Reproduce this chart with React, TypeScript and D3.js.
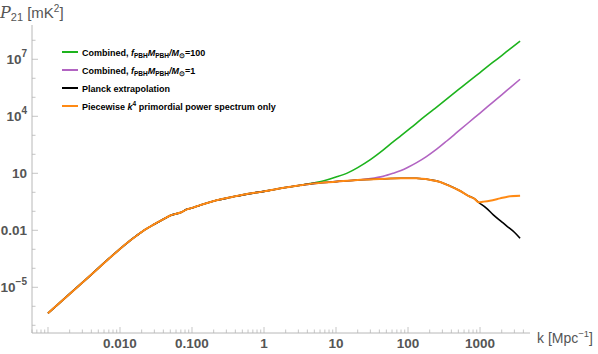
import React, { useEffect, useRef } from 'react';
import * as d3 from 'd3';

// shared low-k part (orange and black lie on top of each other here)
const kBase = [0.001, 0.002, 0.004, 0.007, 0.01, 0.013, 0.017, 0.022, 0.03, 0.04, 0.05, 0.06, 0.07, 0.085, 0.1, 0.12, 0.15, 0.22, 0.35, 0.6, 1, 2, 3.2, 5, 10, 20, 40, 80, 130, 200, 280, 380, 500, 720, 850, 950];
const pBase = [4.3e-7, 4.5e-6, 4.7e-5, 3.2e-4, 1.05e-3, 2.4e-3, 5.2e-3, 0.0105, 0.021, 0.038, 0.06, 0.074, 0.086, 0.127, 0.151, 0.19, 0.25, 0.38, 0.55, 0.83, 1.12, 1.78, 2.34, 2.95, 3.63, 4.47, 5.0, 5.5, 5.5, 4.57, 3.47, 2.14, 1.32, 0.6, 0.44, 0.3];

const kOrangeTail = [1100, 1370, 1900, 2400, 3600];
const pOrangeTail = [0.32, 0.36, 0.48, 0.59, 0.66];

const kBlackTail = [1200, 1530, 2000, 2400, 3000, 3600];
const pBlackTail = [0.158, 0.065, 0.028, 0.0158, 0.0079, 0.0038];

const kGreenTail = [5, 7, 10, 15, 20, 30, 45, 62, 80, 110, 150, 225, 350, 500, 720, 1000, 1500, 2000, 2700, 3600];
const pGreenTail = [3.16, 4.17, 6.31, 11.2, 20, 52.5, 166, 447, 955, 2510, 6610, 2.24e4, 8.5e4, 2.51e5, 7.6e5, 2.0e6, 6.8e6, 1.58e7, 3.9e7, 9.1e7];

const kPurpleTail = [30, 45, 62, 80, 100, 130, 180, 250, 345, 500, 690, 1000, 1500, 2000, 2700, 3600];
const pPurpleTail = [5.25, 6.9, 10, 14.1, 20.9, 35.5, 75.9, 186, 501, 1640, 4570, 1.48e4, 5.4e4, 1.35e5, 3.55e5, 8.9e5];

const xTickLabels = ['0.010', '0.100', '1', '10', '100', '1000'];
const xTickValues = [0.01, 0.1, 1, 10, 100, 1000];

const GREEN = '#1db31d';
const PURPLE = '#b264c2';
const ORANGE = '#ff8a14';
const AXIS = '#b8b8b8';
const TXT = '#555';
const FONT = 'Liberation Sans, Arial, Helvetica, sans-serif';

function join(kA: number[], pA: number[], upTo: number, kT: number[], pT: number[]) {
  const pts: [number, number][] = [];
  kA.forEach((k, i) => { if (k <= upTo) pts.push([k, pA[i]]); });
  kT.forEach((k, i) => pts.push([k, pT[i]]));
  return pts;
}

function App() {
  const svgRef = useRef<SVGSVGElement>(null);

  useEffect(() => {
    const svg = d3.select(svgRef.current);
    svg.selectAll('*').remove();

    const x = d3.scaleLog().domain([Math.pow(10, -3.222), Math.pow(10, 3.694)]).range([32, 530]);
    const y = d3.scaleLog().domain([Math.pow(10, 8.805), Math.pow(10, -7.405)]).range([25, 333]);

    const g = svg.append('g');

    // axes
    g.append('line').attr('x1', 32).attr('x2', 530).attr('y1', 333).attr('y2', 333).attr('stroke', AXIS);
    g.append('line').attr('x1', 32).attr('x2', 32).attr('y1', 25).attr('y2', 333).attr('stroke', AXIS);

    // x ticks
    for (let e = -4; e <= 3; e++) {
      for (let m = 1; m <= 9; m++) {
        const k = m * Math.pow(10, e);
        const px = x(k);
        if (px < 32 || px > 530) continue;
        const len = m === 1 ? 6 : 3.5;
        g.append('line').attr('x1', px).attr('x2', px).attr('y1', 333).attr('y2', 333 - len)
          .attr('stroke', AXIS).attr('stroke-width', 0.8);
      }
    }
    xTickValues.forEach((v, i) => {
      g.append('text').attr('x', x(v)).attr('y', 348).attr('text-anchor', 'middle')
        .attr('font-family', FONT).attr('font-weight', 'bold').attr('font-size', 13.5).attr('fill', TXT)
        .text(xTickLabels[i]);
    });

    // y ticks
    for (let e = -7; e <= 8; e++) {
      const py = y(Math.pow(10, e));
      const major = (e + 5) % 3 === 0;
      g.append('line').attr('x1', 32).attr('x2', 32 + (major ? 6 : 3.5)).attr('y1', py).attr('y2', py)
        .attr('stroke', AXIS).attr('stroke-width', 0.8);
    }
    const yLab = (e: number) => {
      const py = y(Math.pow(10, e));
      const t = g.append('text').attr('x', 27).attr('y', py + 5).attr('text-anchor', 'end')
        .attr('font-family', FONT).attr('font-weight', 'bold').attr('font-size', 13.5).attr('fill', TXT);
      if (e === 1) t.text('10');
      else if (e === -2) t.text('0.01');
      else {
        t.append('tspan').text('10');
        t.append('tspan').attr('dy', -7).attr('font-size', 10).text(e < 0 ? '\u2212' + Math.abs(e) : String(e));
      }
    };
    [7, 4, 1, -2, -5].forEach(yLab);

    // axis labels
    const yl = g.append('text').attr('x', 0).attr('y', 18).attr('font-family', FONT).attr('font-size', 15).attr('fill', TXT);
    yl.append('tspan').attr('font-family', 'DejaVu Serif, serif').attr('font-style', 'italic').attr('font-size', 16).text('P');
    yl.append('tspan').attr('dy', 3).attr('font-size', 11).text('21');
    yl.append('tspan').attr('dy', -3).text(' [mK');
    yl.append('tspan').attr('dy', -6).attr('font-size', 10).text('2');
    yl.append('tspan').attr('dy', 6).text(']');

    const xl = g.append('text').attr('x', 537).attr('y', 343).attr('font-family', FONT)
      .attr('font-size', 14).attr('fill', TXT);
    xl.append('tspan').text('k [Mpc');
    xl.append('tspan').attr('dy', -6).attr('font-size', 9.5).text('\u22121');
    xl.append('tspan').attr('dy', 6).text(']');

    // curves
    const line = d3.line<[number, number]>().x(d => x(d[0])).y(d => y(d[1])).curve(d3.curveMonotoneX);
    const series = [
      { pts: join(kBase, pBase, 3.2, kGreenTail, pGreenTail), color: GREEN, w: 1.6 },
      { pts: join(kBase, pBase, 20, kPurpleTail, pPurpleTail), color: PURPLE, w: 1.6 },
      { pts: join(kBase, pBase, 950, kBlackTail, pBlackTail), color: '#000', w: 1.6 },
      { pts: join(kBase, pBase, 950, kOrangeTail, pOrangeTail), color: ORANGE, w: 2 },
    ];
    series.forEach(s => {
      g.append('path').attr('d', line(s.pts)).attr('fill', 'none').attr('stroke', s.color)
        .attr('stroke-width', s.w).attr('stroke-linejoin', 'round');
    });

    // legend
    const legend = g.append('g').attr('font-family', FONT).attr('font-weight', 'bold').attr('font-size', 9).attr('fill', '#000');
    const rows = [GREEN, PURPLE, '#000', ORANGE];
    rows.forEach((c, i) => {
      const ly = 52 + i * 18;
      legend.append('line').attr('x1', 62).attr('x2', 78).attr('y1', ly).attr('y2', ly).attr('stroke', c).attr('stroke-width', 2);
      const t = legend.append('text').attr('x', 82).attr('y', ly + 3.5);
      if (i < 2) {
        t.append('tspan').text('Combined, ');
        t.append('tspan').attr('font-style', 'italic').text('f');
        t.append('tspan').attr('dy', 2).attr('font-size', 6.5).text('PBH');
        t.append('tspan').attr('dy', -2).attr('font-style', 'italic').text('M');
        t.append('tspan').attr('dy', 2).attr('font-size', 6.5).text('PBH');
        t.append('tspan').attr('dy', -2).attr('font-style', 'italic').text('/M');
        t.append('tspan').attr('dy', 2).attr('font-size', 6.5).text('\u2299');
        t.append('tspan').attr('dy', -2).text(i === 0 ? '=100' : '=1');
      } else if (i === 2) {
        t.text('Planck extrapolation');
      } else {
        t.append('tspan').text('Piecewise ');
        t.append('tspan').attr('font-style', 'italic').text('k');
        t.append('tspan').attr('dy', -4).attr('font-size', 6.5).text('4');
        t.append('tspan').attr('dy', 4).text(' primordial power spectrum only');
      }
    });
  }, []);

  return (
    <div style={{ position: 'absolute', left: 0, top: 0, width: 598, height: 354, background: '#fff' }}>
      <svg ref={svgRef} width={598} height={354} style={{ display: 'block' }}></svg>
    </div>
  );
}

export default App;
